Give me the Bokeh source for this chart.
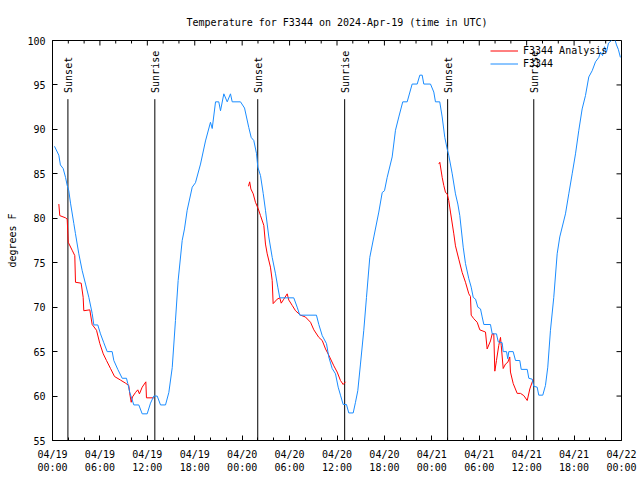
import math
from bokeh.plotting import figure
from bokeh.models import FixedTicker, Range1d, Legend, LegendItem
from bokeh.core.properties import value
from bokeh.embed import file_html
from bokeh.resources import INLINE

# ---- data (x = hours since 2024-04-19 00:00 UTC) ----
obs_hours = [0.25, 0.8, 1.0, 1.35, 1.65, 1.86, 2.06, 2.28, 2.7, 2.9, 3.33, 3.76, 4.18, 4.6, 5.02, 5.23,
             5.73, 6.07, 6.49, 6.92, 7.55, 7.76, 8.26, 8.82, 9.36, 9.53, 9.78, 10.29, 10.92, 11.35, 11.98,
             12.4, 12.82, 13.25, 13.67, 14.3, 14.72, 15.15, 15.56, 15.9, 16.41, 16.7, 17.04, 17.68, 18.09,
             18.73, 19.36, 19.99, 20.21, 20.63, 21.04, 21.26, 21.68, 22.11, 22.52, 22.74, 23.79, 24.3,
             24.84, 25.14, 25.47, 25.81, 25.98, 26.32, 26.66, 26.95, 27.37, 27.8, 28.22, 28.51, 28.76,
             30.53, 30.96, 31.29, 33.4, 33.7, 34.13, 34.67, 34.96, 35.39, 35.81, 36.15, 36.44, 36.78,
             37.2, 37.49, 38.05, 38.34, 38.63, 38.97, 39.39, 39.73, 40.15, 40.66, 41.29, 41.72, 42.01,
             42.35, 42.98, 43.4, 43.82, 44.32, 44.88, 45.51, 46.15, 46.48, 46.78, 46.98, 47.83, 48.25,
             48.46, 49.0, 49.31, 49.64, 49.94, 50.14, 50.58, 50.99, 51.29, 51.54, 51.97, 52.26, 52.68,
             52.98, 53.24, 53.53, 53.82, 54.16, 54.37, 54.58, 55.42, 55.64, 56.18, 56.4, 56.9, 57.03,
             57.45, 57.61, 57.74, 58.29, 58.59, 59.13, 59.31, 60.07, 60.27, 60.7, 60.9, 61.33, 61.53,
             62.04, 62.38, 62.67, 63.01, 63.43, 63.86, 64.19, 64.91, 65.33, 65.76, 66.18, 66.6, 67.02,
             67.44, 67.86, 68.29, 68.71, 69.13, 69.34, 69.6, 69.85, 70.1, 70.35, 70.73, 71.1, 71.37,
             71.6, 71.86]
obs_temps = [88.1, 87.1, 86.0, 85.6, 84.6, 83.7, 83.1, 81.7, 79.4, 78.3, 76.0, 74.1, 72.6, 71.1, 69.3, 68.0,
             68.0, 67.0, 66.0, 65.0, 65.0, 64.0, 63.0, 62.0, 62.0, 61.4, 60.4, 59.0, 59.0, 58.0, 58.0,
             59.2, 60.0, 60.0, 59.0, 59.0, 60.4, 63.2, 68.5, 73.0, 77.5, 78.8, 80.9, 83.5, 84.0,
             86.1, 88.7, 90.8, 90.1, 93.1, 93.1, 92.1, 94.0, 93.1, 94.0, 93.1, 93.1, 92.4,
             90.2, 89.1, 88.75, 87.3, 85.75, 84.8, 82.8, 80.9, 77.9, 75.6, 73.75, 72.25, 71.05,
             71.05, 70.0, 69.1, 69.1, 68.05, 66.8, 65.9, 64.4, 63.1, 62.5, 61.0, 60.1, 59.05,
             59.05, 58.1, 58.1, 59.3, 60.6, 63.6, 67.4, 71.1, 75.6, 77.9, 80.7, 82.9, 83.1,
             84.6, 86.9, 89.9, 91.4, 93.1, 93.1, 95.1, 95.1, 96.1, 96.1, 95.1, 95.1, 94.2,
             93.1, 93.1, 91.4, 89.1, 87.8, 87.1, 85.0, 82.75, 81.6, 80.3, 76.75, 74.9, 73.2,
             72.25, 71.1, 70.9, 70.0, 69.8, 68.9, 68.05, 68.05, 67.0, 67.0, 66.1, 66.0, 65.0,
             65.0, 64.2, 65.0, 65.0, 64.0, 64.0, 63.0, 63.0, 62.0, 61.9, 61.1, 61.0, 60.1,
             60.1, 61.2, 63.25, 67.4, 71.1, 76.0, 77.9, 80.5, 82.75, 85.0, 87.25, 89.9, 92.3,
             93.8, 95.9, 96.6, 97.6, 98.1, 98.7, 98.3, 99.3, 98.7, 99.7, 100.0, 100.3, 99.5,
             99.0, 98.1]

ana1_hours = [0.8, 0.92, 1.65, 1.86, 1.99, 2.49, 2.82, 2.91, 3.63, 3.88, 3.96, 4.72, 5.02, 5.57, 5.99,
              6.42, 6.83, 7.34, 7.85, 8.6, 9.24, 9.65, 9.78, 9.96, 10.12, 10.5, 10.79, 11.0, 11.35,
              11.81, 11.89, 12.82]
ana1_temps = [81.6, 80.3, 80.05, 79.9, 77.3, 76.4, 75.8, 72.8, 72.7, 71.1, 69.6, 69.7, 68.05, 67.4, 65.9,
              64.75, 64.0, 63.1, 62.2, 61.8, 61.45, 61.2, 60.25, 59.3, 59.9, 60.4, 60.7, 60.25, 61.0,
              61.6, 59.8, 59.8]
ana2_hours = [24.8, 24.95, 25.1, 25.4, 25.68, 26.02, 26.32, 26.74, 26.95, 27.17, 27.58, 27.8, 27.92,
              28.43, 28.76, 28.94, 29.27, 29.7, 29.9, 30.33, 30.75, 31.38, 32.0, 32.65, 33.07, 33.7,
              34.13, 34.55, 34.96, 35.6, 36.02, 36.44, 36.78, 37.07]
ana2_temps = [83.6, 84.1, 83.3, 82.75, 81.8, 81.1, 80.3, 79.2, 77.1, 76.0, 74.5, 73.0, 70.4,
              70.9, 71.05, 70.45, 70.9, 71.5, 70.8, 70.2, 69.6, 69.1, 68.9, 68.3, 67.45, 66.6,
              66.25, 65.3, 64.6, 63.4, 62.7, 61.75, 61.3, 61.6]
ana3_hours = [48.88, 49.01, 49.31, 49.51, 49.73, 49.94, 50.14, 50.36, 50.78, 50.99, 51.41, 51.84, 52.26,
              52.68, 52.89, 52.98, 53.31, 53.74, 54.07, 54.79, 55.0, 55.42, 55.64, 55.84, 55.97, 56.18,
              56.47, 56.69, 56.78, 57.03, 57.32, 57.61, 57.86, 57.95, 58.3, 58.8, 59.22, 59.64, 60.07,
              60.4, 60.83]
ana3_temps = [86.1, 86.3, 84.6, 83.7, 82.9, 82.75, 82.0, 80.7, 78.25, 76.9, 75.4, 73.9, 72.8,
              71.5, 71.2, 69.1, 68.7, 68.3, 67.45, 67.2, 65.3, 66.2, 67.0, 67.0, 62.8, 64.0,
              65.7, 66.6, 65.7, 63.1, 63.6, 63.8, 64.4, 62.7, 61.4, 60.3, 60.3, 60.05, 59.5,
              60.8, 61.9]

sunset_hours = [1.95, 25.97, 50.0]
sunrise_hours = [12.95, 36.97, 60.9]

x_tick_hours = [0, 6, 12, 18, 24, 30, 36, 42, 48, 54, 60, 66, 72]
x_tick_labels = ["04/19\n00:00", "04/19\n06:00", "04/19\n12:00", "04/19\n18:00",
                 "04/20\n00:00", "04/20\n06:00", "04/20\n12:00", "04/20\n18:00",
                 "04/21\n00:00", "04/21\n06:00", "04/21\n12:00", "04/21\n18:00",
                 "04/22\n00:00"]
x_minor_hours = [h for h in range(0, 73, 2) if h % 6 != 0]
y_ticks = [55, 60, 65, 70, 75, 80, 85, 90, 95, 100]

# ---- styling ----
FONT = "DejaVu Sans Mono"
FS = "10px"
RED = "#ff0000"
BLUE = "#1a8cff"
SUN_LINE_TOP = 93.4
SUN_LABEL_Y = 94.1
X_MIN, X_MAX = 0, 72
Y_MIN, Y_MAX = 55, 100

p = figure(width=640, height=480, x_range=Range1d(X_MIN, X_MAX), y_range=Range1d(Y_MIN, Y_MAX),
           output_backend="svg", toolbar_location=None,
           title="Temperature for F3344 on 2024-Apr-19 (time in UTC)",
           min_border_left=52, min_border_right=19, min_border_top=40, min_border_bottom=40)
p.background_fill_color = "white"
p.border_fill_color = "white"
p.outline_line_color = "black"
p.outline_line_width = 1
p.xgrid.visible = False
p.ygrid.visible = False

p.title.align = "center"
p.title.text_font = FONT
p.title.text_font_size = FS
p.title.text_font_style = "normal"
p.title.text_color = "black"
p.title.standoff = 25

xt = FixedTicker(ticks=x_tick_hours, minor_ticks=x_minor_hours)
yt = FixedTicker(ticks=y_ticks, minor_ticks=[])


def style_axis(ax):
    ax.axis_line_color = "black"
    ax.major_tick_line_color = "black"
    ax.minor_tick_line_color = "black"
    ax.major_tick_in = 5
    ax.major_tick_out = 0
    ax.minor_tick_in = 3
    ax.minor_tick_out = 0
    ax.major_label_text_font = FONT
    ax.major_label_text_font_size = FS
    ax.major_label_text_color = "black"


xa = p.xaxis[0]
xa.ticker = xt
xa.major_label_overrides = {h: lab for h, lab in zip(x_tick_hours, x_tick_labels)}
style_axis(xa)
xa.major_label_standoff = 8

ya = p.yaxis[0]
ya.ticker = yt
style_axis(ya)
ya.major_label_standoff = 7
ya.axis_label = "degrees F"
ya.axis_label_text_font = FONT
ya.axis_label_text_font_size = FS
ya.axis_label_text_font_style = "normal"
ya.axis_label_text_color = "black"
ya.axis_label_standoff = 6

# mirrored ticks on top and right borders (pointing inward)
p.ray(x=x_tick_hours, y=[Y_MAX] * len(x_tick_hours), length=5, length_units="screen",
      angle=-math.pi / 2, line_color="black", line_width=1)
p.ray(x=x_minor_hours, y=[Y_MAX] * len(x_minor_hours), length=3, length_units="screen",
      angle=-math.pi / 2, line_color="black", line_width=1)
p.ray(x=[X_MAX] * len(y_ticks), y=y_ticks, length=5, length_units="screen",
      angle=math.pi, line_color="black", line_width=1)

# sunrise / sunset markers
for hours, name in ((sunset_hours, "Sunset"), (sunrise_hours, "Sunrise")):
    p.segment(x0=hours, y0=[Y_MIN] * len(hours), x1=hours, y1=[SUN_LINE_TOP] * len(hours),
              line_color="black", line_width=1)
    p.text(x=hours, y=[SUN_LABEL_Y] * len(hours), text=[name] * len(hours), angle=math.pi / 2,
           text_align="left", text_baseline="middle", text_font=value(FONT),
           text_font_size=FS, text_color="black", x_offset=1)

nan = float("nan")
ana_hours = ana1_hours + [nan] + ana2_hours + [nan] + ana3_hours
ana_temps = ana1_temps + [nan] + ana2_temps + [nan] + ana3_temps
r_red = p.line(ana_hours, ana_temps, line_color=RED, line_width=1)
r_blue = p.line(obs_hours, obs_temps, line_color=BLUE, line_width=1)

legend = Legend(items=[LegendItem(label="F3344 Analysis", renderers=[r_red]),
                       LegendItem(label="F3344", renderers=[r_blue])],
                location=(438, 370), margin=0, padding=4, spacing=0,
                glyph_width=28, glyph_height=13, label_height=13, label_standoff=5,
                label_text_font=FONT, label_text_font_size=FS, label_text_color="black",
                border_line_color=None, background_fill_alpha=0)
p.add_layout(legend)

open("out.html", "w").write(file_html(p, INLINE))
